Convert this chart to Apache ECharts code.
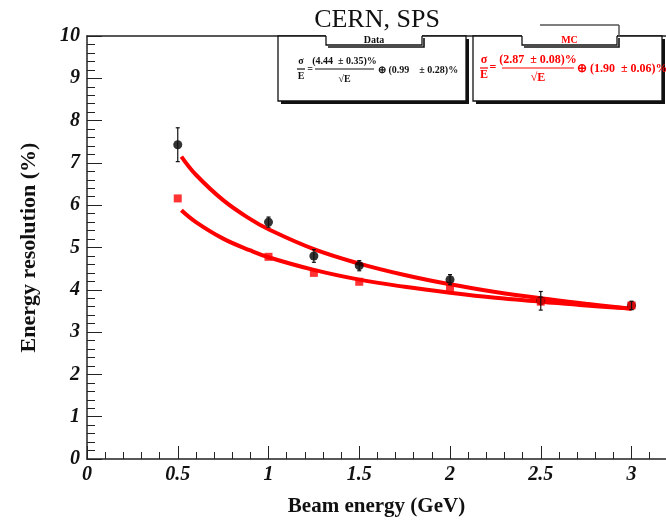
<!DOCTYPE html>
<html>
<head>
<meta charset="utf-8">
<script src="https://cdn.jsdelivr.net/npm/echarts@6/dist/echarts.min.js"></script>
<style>
html,body{margin:0;padding:0;background:#fff;}
#c{width:666px;height:522px;}
</style>
</head>
<body>
<div id="c"></div>
<script>
// ---- data ----
const energies = [0.5, 1.0, 1.25, 1.5, 2.0, 2.5, 3.0];
const dataRes  = [7.43, 5.60, 4.80, 4.57, 4.24, 3.74, 3.63];
const dataErr  = [0.40, 0.12, 0.15, 0.12, 0.12, 0.22, 0.10];
const mcRes    = [6.16, 4.78, 4.40, 4.19, 4.05, 3.72, 3.63];
const fitX     = [0.52, 0.6, 0.75, 0.9, 1.0, 1.25, 1.5, 1.75, 2.0, 2.25, 2.5, 2.75, 3.0];
const dataFit  = [7.15, 6.72, 6.12, 5.67, 5.43, 4.96, 4.62, 4.35, 4.13, 3.95, 3.80, 3.67, 3.55];
const mcFit    = [5.88, 5.60, 5.21, 4.93, 4.77, 4.47, 4.24, 4.07, 3.93, 3.81, 3.72, 3.63, 3.56];
const xTicks   = ['0', '0.5', '1', '1.5', '2', '2.5', '3'];

const serif = 'Liberation Serif';
const chart = echarts.init(document.getElementById('c'));

const pairs = (xs, ys) => xs.map((x, i) => [x, ys[i]]);
const errData = energies.map((x, i) => [x, dataRes[i] - dataErr[i], dataRes[i] + dataErr[i]]);

function boxWithTab(x0, x1, tabX0, tabX1, label, color, extraTabTop) {
  const els = [
    {type: 'rect', shape: {x: x0 + 3, y: 39, width: x1 - x0, height: 65}, style: {fill: '#111'}, z: 10},
    {type: 'rect', shape: {x: x0, y: 36, width: x1 - x0, height: 65}, style: {fill: '#fff', stroke: '#111', lineWidth: 1.3}, z: 11},
    {type: 'rect', shape: {x: tabX0, y: 34, width: tabX1 - tabX0, height: 11}, style: {fill: '#fff', stroke: null}, z: 12},
    {type: 'polyline', shape: {points: [[tabX0, 36], [tabX0, 45], [tabX1, 45], [tabX1, 36]]}, style: {stroke: '#111', lineWidth: 1.3, fill: null}, z: 13},
    {type: 'polyline', shape: {points: [[tabX0 + 2, 47], [tabX1 + 2, 47], [tabX1 + 2, 38]]}, style: {stroke: '#111', lineWidth: 1.6, fill: null}, z: 13},
    {type: 'text', style: {text: label, x: (tabX0 + tabX1) / 2, y: 40, align: 'center', verticalAlign: 'middle', fill: color, font: 'bold 10px "' + serif + '"'}, z: 14}
  ];
  if (extraTabTop) {
    els.push({type: 'line', shape: {x1: extraTabTop[0], y1: 25, x2: extraTabTop[1], y2: 25}, style: {stroke: '#555', lineWidth: 1.5}, z: 14});
    els.push({type: 'line', shape: {x1: extraTabTop[1], y1: 25, x2: extraTabTop[1], y2: 36}, style: {stroke: '#555', lineWidth: 1.5}, z: 14});
  }
  return els;
}

function formula(sx, color, size, num, tail, fx0, fx1, tailX, yMid) {
  const f = 'bold ' + size + 'px "' + serif + '"';
  const t = (text, x, y, align) => ({type: 'text', style: {text, x, y, align: align || 'center', verticalAlign: 'middle', fill: color, font: f}, z: 15});
  return [
    t('σ', sx, yMid - 8),
    {type: 'line', shape: {x1: sx - 4, y1: yMid, x2: sx + 4, y2: yMid}, style: {stroke: color, lineWidth: 1.2}, z: 15},
    t('E', sx, yMid + 7),
    t('=', sx + 9, yMid),
    t(num, (fx0 + fx1) / 2, yMid - 8),
    {type: 'line', shape: {x1: fx0, y1: yMid, x2: fx1, y2: yMid}, style: {stroke: color, lineWidth: 1.2}, z: 15},
    t('√E', (fx0 + fx1) / 2, yMid + 10),
    t(tail, tailX, yMid + 1, 'left')
  ];
}

const graphics = [].concat(
  boxWithTab(278, 466, 326, 422, 'Data', '#111', null),
  boxWithTab(473, 662, 522, 617, 'MC', '#f00', [540, 619]),
  formula(301, '#111', 10, '(4.44  ± 0.35)%', '⊕ (0.99    ± 0.28)%', 315, 374, 378, 69),
  formula(484, '#f00', 12, '(2.87  ± 0.08)%', '⊕ (1.90  ± 0.06)%', 502, 574, 577, 68)
);

const option = {
  animation: false,
  backgroundColor: '#fff',
  title: {
    text: 'CERN, SPS', left: 372, top: 2, textAlign: 'center',
    textStyle: {fontFamily: serif, fontWeight: 'normal', fontSize: 26, color: '#111'}
  },
  grid: {left: 87, right: 0, top: 36, bottom: 57, containLabel: false},
  xAxis: [{
    type: 'value', min: 0, max: 3.19, interval: 0.5,
    name: 'Beam energy (GeV)', nameLocation: 'middle', nameGap: 37,
    nameTextStyle: {fontFamily: serif, fontWeight: 'bold', fontSize: 21, color: '#111'},
    axisLine: {show: true, lineStyle: {color: '#222', width: 1.5}},
    axisTick: {show: true, inside: true, length: 13, lineStyle: {color: '#222', width: 1}},
    minorTick: {show: true, splitNumber: 5, length: 7, lineStyle: {color: '#222', width: 1}},
    splitLine: {show: false},
    axisLabel: {
      show: true, margin: 6, showMaxLabel: false,
      fontFamily: serif, fontStyle: 'italic', fontWeight: 'bold', fontSize: 20, color: '#111',
      formatter: v => { const i = Math.round(v / 0.5); return Math.abs(v - i * 0.5) < 1e-6 && xTicks[i] !== undefined ? xTicks[i] : ''; }
    }
  }, {
    type: 'value', position: 'top', min: 0, max: 3.19,
    axisLine: {show: true, onZero: false, lineStyle: {color: '#222', width: 1.5}},
    axisTick: {show: false}, axisLabel: {show: false}, splitLine: {show: false}
  }],
  yAxis: {
    type: 'value', min: 0, max: 10, interval: 1,
    name: 'Energy resolution (%)', nameLocation: 'middle', nameGap: 47, nameRotate: 90,
    nameTextStyle: {fontFamily: serif, fontWeight: 'bold', fontSize: 22, color: '#111'},
    axisLine: {show: true, lineStyle: {color: '#222', width: 1.5}},
    axisTick: {show: true, inside: true, length: 15, lineStyle: {color: '#222', width: 1}},
    minorTick: {show: true, splitNumber: 5, length: 8, lineStyle: {color: '#222', width: 1}},
    splitLine: {show: false},
    axisLabel: {
      margin: 7, fontFamily: serif, fontStyle: 'italic', fontWeight: 'bold', fontSize: 20, color: '#111'
    }
  },
  series: [
    {
      type: 'line', data: pairs(fitX, dataFit), smooth: 0.4, showSymbol: false,
      lineStyle: {color: '#ff0000', width: 4}, z: 2
    },
    {
      type: 'line', data: pairs(fitX, mcFit), smooth: 0.4, showSymbol: false,
      lineStyle: {color: '#ff0000', width: 4}, z: 2
    },
    {
      type: 'scatter', data: pairs(energies, dataRes), symbol: 'circle', symbolSize: 9,
      itemStyle: {color: '#000'}, z: 3
    },
    {
      type: 'scatter', data: pairs(energies, mcRes), symbol: 'rect', symbolSize: 8,
      itemStyle: {color: '#ff0000'}, z: 4
    },
    {
      type: 'custom', data: errData, z: 5,
      renderItem: (params, api) => {
        const lo = api.coord([api.value(0), api.value(1)]);
        const hi = api.coord([api.value(0), api.value(2)]);
        const st = {stroke: '#111', lineWidth: 1.2};
        return {type: 'group', children: [
          {type: 'line', shape: {x1: lo[0], y1: lo[1], x2: hi[0], y2: hi[1]}, style: st},
          {type: 'line', shape: {x1: lo[0] - 2, y1: lo[1], x2: lo[0] + 2, y2: lo[1]}, style: st},
          {type: 'line', shape: {x1: hi[0] - 2, y1: hi[1], x2: hi[0] + 2, y2: hi[1]}, style: st}
        ]};
      }
    }
  ],
  graphic: graphics
};
chart.setOption(option);
</script>
</body>
</html>
